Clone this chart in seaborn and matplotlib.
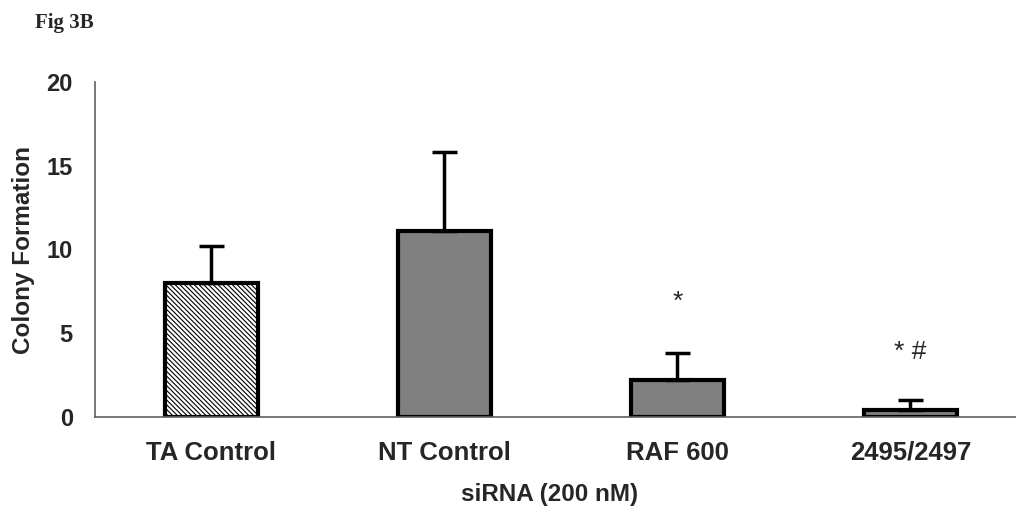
import matplotlib
matplotlib.use("Agg")
import matplotlib.pyplot as plt
import numpy as np
import pandas as pd
import seaborn as sns

groups = ["TA Control", "NT Control", "RAF 600", "2495/2497"]
means = [8.0, 11.1, 2.2, 0.4]
errors = [2.2, 4.7, 1.6, 0.6]
marks = ["", "", "*", "* #"]
mark_y = [None, None, 6.9, 3.9]

sns.set_style("white")
plt.rcParams["font.family"] = ["Liberation Sans", "DejaVu Sans"]
plt.rcParams["hatch.linewidth"] = 0.8

df = pd.DataFrame({"group": groups, "mean": means})

fig = plt.figure(figsize=(10.16, 5.08), dpi=100)
ax = fig.add_axes([95 / 1016, 91 / 508, 921 / 1016, 335 / 508])

sns.barplot(data=df, x="group", y="mean", color="#808080", width=0.4,
            edgecolor="black", linewidth=3, saturation=1, errorbar=None, ax=ax)

# first bar is hatched, white background
bar0 = ax.patches[0]
bar0.set_facecolor("white")
bar0.set_hatch("\\\\\\\\\\\\\\")

x = np.arange(len(groups))
ax.errorbar(x, means, yerr=[np.zeros(len(errors)), errors], fmt="none",
            ecolor="black", elinewidth=2.5, capsize=9, capthick=2.5, zorder=1)

for xi, m, my in zip(x, marks, mark_y):
    if m:
        ax.text(xi, my, m, ha="center", va="center", fontsize=19,
                family=["Liberation Sans", "DejaVu Sans"])

ax.set_ylim(0, 20)
ax.set_xlim(-0.5, 3.453)
ax.set_yticks([0, 5, 10, 15, 20])
ax.set_xticks(x)
ax.set_xticks([0.5, 1.5, 2.5], minor=True)
ax.tick_params(axis="x", which="major", length=0, pad=17, labelsize=18.5)
ax.tick_params(axis="x", which="minor", length=6, width=1.2, color="#606060", direction="out")
ax.tick_params(axis="y", length=7, width=1, color="#606060", direction="out", pad=9, labelsize=17)
for lbl in ax.get_xticklabels() + ax.get_yticklabels():
    lbl.set_fontweight("bold")

ax.set_xlabel("siRNA (200 nM)", fontsize=17.5, fontweight="bold")
ax.set_ylabel("Colony Formation", fontsize=17.5, fontweight="bold")
ax.xaxis.set_label_coords((550 - 95) / 921, -(483 - 417) / 335)
ax.yaxis.set_label_coords(-60 / 921, (417 - 250) / 335)

sns.despine(ax=ax, top=True, right=True)
for s in ["left", "bottom"]:
    ax.spines[s].set_color("#606060")
    ax.spines[s].set_linewidth(1.2)

fig.text(35 / 1016, 1 - 23 / 508, "Fig 3B", fontsize=15, fontweight="bold",
         family=["Liberation Serif", "DejaVu Serif"], ha="left", va="center")

fig.savefig("out.png", dpi=100, facecolor="white")
